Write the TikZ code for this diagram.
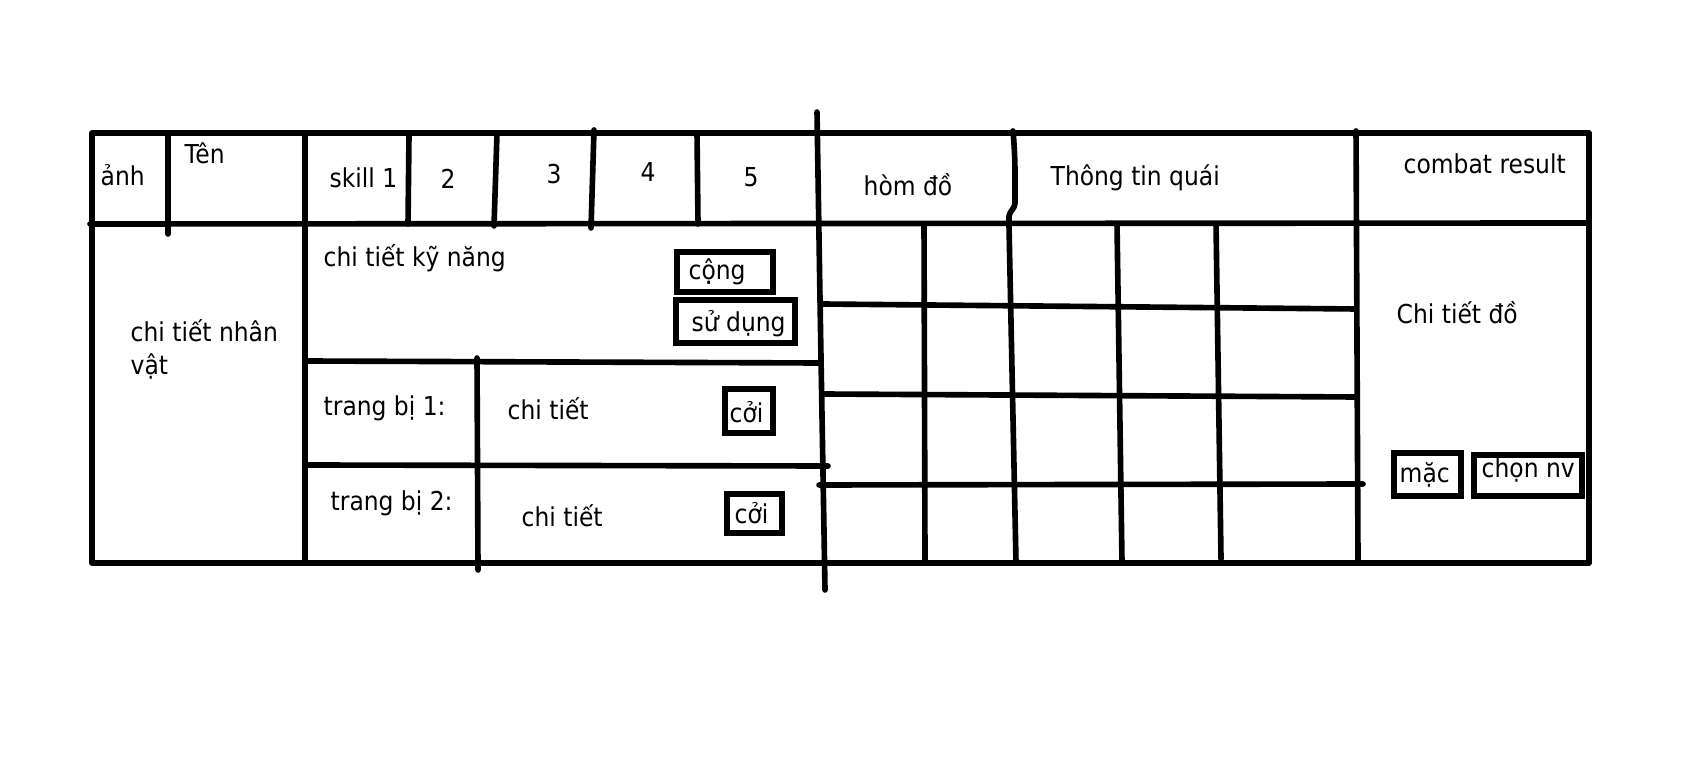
\documentclass[tikz,border=0pt]{standalone}
\usepackage{fontspec}
\setmainfont{DejaVu Sans Condensed}
\begin{document}
\begin{tikzpicture}[x=0.01cm,y=-0.01cm,
  ln/.style={line width=1.6pt,line cap=round,line join=round},
  bx/.style={line width=1.5pt},
  lbl/.style={anchor=base west,inner sep=0pt,font=\fontsize{7.4pt}{9pt}\selectfont},
  num/.style={anchor=base,inner sep=0pt,font=\fontsize{7.4pt}{9pt}\selectfont}]
\useasboundingbox[fill=white] (0,0) rectangle (1689,777);
% outer frame and header
\draw[ln] (92,133) rectangle (1589,563);
\draw[ln] (90,224) -- (1589,223);
\draw[ln] (168,133) -- (168,234);
\draw[ln] (305,133) -- (305,563);
\draw[ln] (409,135) -- (408,224);
\draw[ln] (497,133) -- (494,226);
\draw[ln] (594,130) -- (591,228);
\draw[ln] (697,133) -- (698,224);
\draw[ln] (817,112) -- (820,300) -- (825,590);
\draw[ln] (1013,131) to[out=-85,in=90] (1015,203) to[out=-90,in=80] (1009,216) -- (1009,226) -- (1016,563);
\draw[ln] (1356,131) -- (1358,563);
% grid
\draw[ln] (924,224) -- (925,563);
\draw[ln] (1117,224) -- (1122,563);
\draw[ln] (1216,224) -- (1221,559);
\draw[ln] (822,304) -- (1356,309);
\draw[ln] (822,394) -- (1356,397);
\draw[ln] (819,485) -- (1363,484);
% left middle region
\draw[ln] (305,361) -- (818,363);
\draw[ln] (477,358) -- (478,570);
\draw[ln] (305,465) -- (828,466);
% buttons
\draw[bx] (677,252) rectangle (773,292);
\draw[bx] (676,300) rectangle (795,343);
\draw[bx] (725,389) rectangle (773,433);
\draw[bx] (727,494) rectangle (782,533);
\draw[bx] (1394,453) rectangle (1461,496);
\draw[bx] (1474,455) rectangle (1582,496);
% texts
\node[lbl] (anh) at (100,186) {ảnh};
\node[lbl] (ten) at (184,164) {Tên};
\node[lbl] (sk1) at (329,188) {skill 1};
\node[num] (sk2) at (448,189) {2};
\node[num] (sk3) at (554,184) {3};
\node[num] (sk4) at (648,182) {4};
\node[num] (sk5) at (751,187) {5};
\node[lbl] (hom) at (863,196) {hòm đồ};
\node[lbl] (ttq) at (1050,186) {Thông tin quái};
\node[lbl] (cbr) at (1403,174) {combat result};
\node[lbl] (ctkn) at (323,267) {chi tiết kỹ năng};
\node[lbl] (ctnv1) at (130,342) {chi tiết nhân};
\node[lbl] (ctnv2) at (130,375) {vật};
\node[lbl] (tb1) at (323,416) {trang bị 1:};
\node[lbl] (ct1) at (507,420) {chi tiết};
\node[lbl] (tb2) at (330,511) {trang bị 2:};
\node[lbl] (ct2) at (521,527) {chi tiết};
\node[lbl] (ctdo) at (1396,324) {Chi tiết đồ};
\node[lbl] (cong) at (688,280) {cộng};
\node[lbl] (sd) at (691,332) {sử dụng};
\node[lbl] (coi1) at (729,423) {cởi};
\node[lbl] (coi2) at (734,524) {cởi};
\node[lbl] (mac) at (1399,483) {mặc};
\node[lbl] (chon) at (1481,478) {chọn nv};
\end{tikzpicture}
\end{document}
